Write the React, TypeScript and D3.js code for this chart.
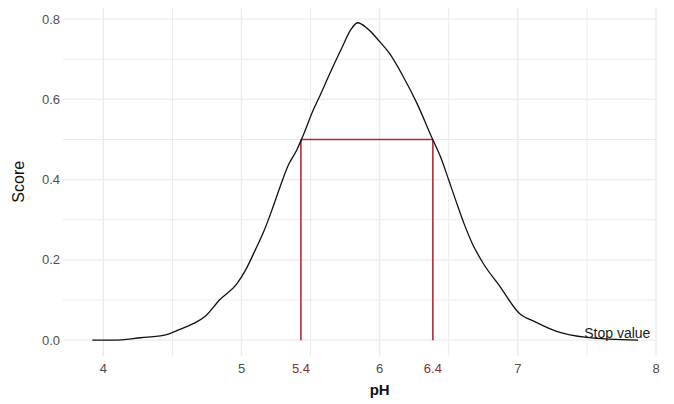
import React from 'react';
import * as d3 from 'd3';

// curve
const phValues = [
  3.92, 4.07, 4.27, 4.45, 4.55, 4.65, 4.74, 4.84, 4.97, 5.03, 5.1, 5.16, 5.22, 5.28,
  5.34, 5.4, 5.44, 5.52, 5.57, 5.64, 5.73, 5.79, 5.84, 5.91, 6.0, 6.07, 6.17, 6.27,
  6.38, 6.44, 6.5, 6.55, 6.61, 6.67, 6.75, 6.87, 7.01, 7.13, 7.28, 7.5, 7.87,
];
const scoreValues = [
  0.0, 0.0, 0.006, 0.013, 0.026, 0.041, 0.06, 0.1, 0.142, 0.175, 0.225, 0.27, 0.324, 0.383,
  0.437, 0.474, 0.505, 0.574, 0.611, 0.665, 0.731, 0.773, 0.791, 0.777, 0.744, 0.715, 0.657, 0.59,
  0.503, 0.457, 0.399, 0.349, 0.291, 0.241, 0.191, 0.134, 0.067, 0.045, 0.022, 0.007, 0.0,
];

const xMajorTicks = [4, 5, 6, 7, 8];
const xMinorTicks = [4.5, 5.5, 6.5, 7.5];
const yMajorTicks = [0, 0.2, 0.4, 0.6, 0.8];
const yMinorTicks = [0.1, 0.3, 0.5, 0.7];

const stopPh = [5.43, 6.385];
const stopLabels = ['5.4', '6.4'];
const stopScore = 0.5;
const stopText = 'Stop value';
const stopTextPos = [7.72, 0.005];

const width = 674;
const height = 404;
const panel = { left: 63, right: 656, top: 7.5, bottom: 356 };

export default function App() {
  const x = d3.scaleLinear().domain([3.708, 8.0]).range([panel.left, panel.right]);
  const y = d3.scaleLinear().domain([-0.0395, 0.829]).range([panel.bottom, panel.top]);

  const points = phValues.map((p, i) => [p, scoreValues[i]] as [number, number]);
  const line = d3
    .line<[number, number]>()
    .x(d => x(d[0]))
    .y(d => y(d[1]))
    .curve(d3.curveMonotoneX);

  const font = '"Liberation Sans", Arial, sans-serif';
  const grid = '#ebebeb';
  const red = '#b22a36';
  const redText = '#8b2e2e';

  return (
    <svg
      width={width}
      height={height}
      style={{ position: 'absolute', left: 0, top: 0, background: '#fff' }}
      fontFamily={font}
    >
      {/* grid */}
      {yMinorTicks.map(t => (
        <line key={'ym' + t} x1={panel.left} x2={panel.right} y1={y(t)} y2={y(t)} stroke={grid} strokeWidth={1} />
      ))}
      {xMinorTicks.map(t => (
        <line key={'xm' + t} x1={x(t)} x2={x(t)} y1={panel.top} y2={panel.bottom} stroke={grid} strokeWidth={1} />
      ))}
      {yMajorTicks.map(t => (
        <line key={'yM' + t} x1={panel.left} x2={panel.right} y1={y(t)} y2={y(t)} stroke={grid} strokeWidth={1.4} />
      ))}
      {xMajorTicks.map(t => (
        <line key={'xM' + t} x1={x(t)} x2={x(t)} y1={panel.top} y2={panel.bottom} stroke={grid} strokeWidth={1.4} />
      ))}

      {/* stop lines */}
      {stopPh.map(p => (
        <line key={'s' + p} x1={x(p)} x2={x(p)} y1={y(0)} y2={y(stopScore)} stroke={red} strokeWidth={1.6} />
      ))}
      <line
        x1={x(stopPh[0])}
        x2={x(stopPh[1])}
        y1={y(stopScore)}
        y2={y(stopScore)}
        stroke={red}
        strokeWidth={1.6}
      />

      {/* curve */}
      <path d={line(points) || ''} fill="none" stroke="#111" strokeWidth={1.3} />

      <text
        x={x(stopTextPos[0])}
        y={y(stopTextPos[1])}
        textAnchor="middle"
        fontSize={14}
        fill="#1a1a1a"
      >
        {stopText}
      </text>

      {/* y axis labels */}
      {yMajorTicks.map(t => (
        <text key={'yl' + t} x={60} y={y(t)} dy="0.35em" textAnchor="end" fontSize={13} fill="#4d4d4d">
          {t.toFixed(1)}
        </text>
      ))}
      {/* x axis labels */}
      {xMajorTicks.map(t => (
        <text key={'xl' + t} x={x(t)} y={373} textAnchor="middle" fontSize={13} fill="#4d4d4d">
          {t}
        </text>
      ))}
      {stopPh.map((p, i) => (
        <text key={'sl' + p} x={x(p)} y={373} textAnchor="middle" fontSize={13} fill={redText}>
          {stopLabels[i]}
        </text>
      ))}

      <text x={x(6)} y={395} textAnchor="middle" fontSize={15} fontWeight="bold" fill="#111">
        pH
      </text>
      <text
        transform={`translate(24, ${(panel.top + panel.bottom) / 2}) rotate(-90)`}
        textAnchor="middle"
        fontSize={16}
        fill="#111"
      >
        Score
      </text>
    </svg>
  );
}
